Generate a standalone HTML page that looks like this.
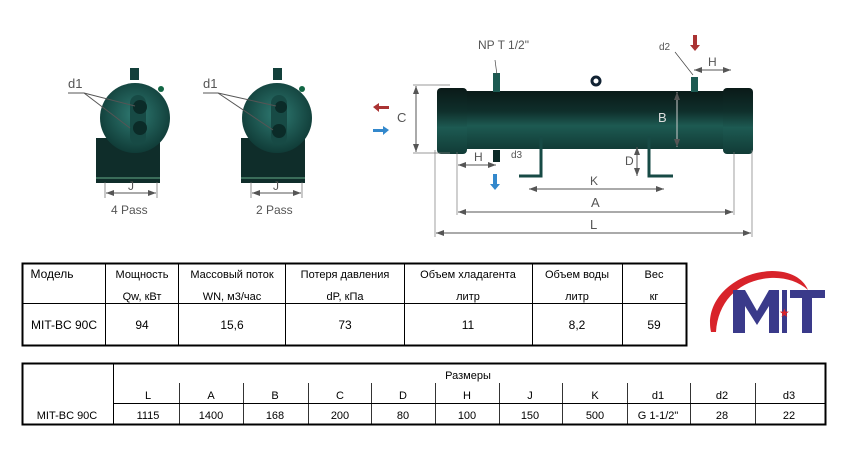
<!DOCTYPE html>
<html><head><meta charset="utf-8"><style>
body{margin:0;background:#fff;width:852px;height:452px;overflow:hidden}
svg{display:block}
.t{font-family:"Liberation Sans",sans-serif;fill:#555}
.c{font-family:"Liberation Sans","Noto Sans CJK SC",sans-serif;font-size:11px;fill:#000}
</style></head><body>
<svg width="852" height="452" viewBox="0 0 852 452" xmlns="http://www.w3.org/2000/svg">
<defs>
<linearGradient id="sh" x1="0" y1="0" x2="0" y2="1">
<stop offset="0" stop-color="#0a1a18"/><stop offset="0.35" stop-color="#0f2f2b"/><stop offset="0.6" stop-color="#1d5a52"/><stop offset="1" stop-color="#113b36"/></linearGradient>
<radialGradient id="rg" cx="0.5" cy="0.45" r="0.6"><stop offset="0" stop-color="#2f7a72"/><stop offset="1" stop-color="#0d3632"/></radialGradient>
<marker id="ar" markerWidth="8" markerHeight="6" refX="8" refY="3" orient="auto"><path d="M0,0 L8,3 L0,6z" fill="#555"/></marker>
<marker id="al" markerWidth="8" markerHeight="6" refX="0" refY="3" orient="auto"><path d="M8,0 L0,3 L8,6z" fill="#555"/></marker>
</defs>

<g>
<rect x="130" y="68" width="9" height="12" fill="#13403b"/>
<rect x="96" y="138" width="64" height="45" fill="#0f2d2a"/>
<line x1="96" y1="178" x2="160" y2="178" stroke="#6a8" stroke-width="1"/>
<circle cx="135" cy="118" r="35" fill="url(#rg)"/>
<rect x="130" y="95" width="16" height="50" rx="8" fill="#174a45"/>
<circle cx="140" cy="107" r="7" fill="#0b2b28"/><circle cx="140" cy="128" r="7" fill="#0b2b28"/>
<circle cx="161" cy="89" r="3" fill="#164"/>
<line x1="68" y1="93" x2="84" y2="93" stroke="#555"/><line x1="84" y1="93" x2="135" y2="106" stroke="#555"/><line x1="84" y1="93" x2="130" y2="128" stroke="#555"/>
<text x="68" y="88" class="t" font-size="13">d1</text>
<line x1="105" y1="182" x2="105" y2="198" stroke="#666" stroke-width=".7"/><line x1="157" y1="182" x2="157" y2="198" stroke="#666" stroke-width=".7"/>
<line x1="106" y1="193" x2="156" y2="193" stroke="#555" marker-start="url(#al)" marker-end="url(#ar)"/>
<text x="128" y="190" class="t" font-size="12">J</text>
<text x="111" y="214" class="t" font-size="12">4 Pass</text>
</g>
<g>
<rect x="273" y="68" width="9" height="12" fill="#13403b"/>
<rect x="241" y="138" width="64" height="45" fill="#0f2d2a"/>
<line x1="241" y1="178" x2="305" y2="178" stroke="#6a8" stroke-width="1"/>
<circle cx="277" cy="118" r="35" fill="url(#rg)"/>
<rect x="271" y="95" width="16" height="50" rx="8" fill="#174a45"/>
<circle cx="281" cy="107" r="6" fill="#0b2b28"/><circle cx="279" cy="131" r="7" fill="#0b2b28"/>
<circle cx="302" cy="89" r="3" fill="#164"/>
<line x1="203" y1="93" x2="218" y2="93" stroke="#555"/><line x1="218" y1="93" x2="276" y2="106" stroke="#555"/><line x1="218" y1="93" x2="273" y2="130" stroke="#555"/>
<text x="203" y="88" class="t" font-size="13">d1</text>
<line x1="251" y1="182" x2="251" y2="198" stroke="#666" stroke-width=".7"/><line x1="302" y1="182" x2="302" y2="198" stroke="#666" stroke-width=".7"/>
<line x1="252" y1="193" x2="301" y2="193" stroke="#555" marker-start="url(#al)" marker-end="url(#ar)"/>
<text x="273" y="190" class="t" font-size="12">J</text>
<text x="256" y="214" class="t" font-size="12">2 Pass</text>
</g>

<rect x="461" y="91" width="268" height="58" fill="url(#sh)"/>
<rect x="437" y="88" width="30" height="66" rx="4" fill="url(#sh)"/>
<rect x="723" y="88" width="30" height="66" rx="4" fill="url(#sh)"/>
<rect x="493" y="73" width="7" height="19" fill="#1d5a52"/>
<rect x="493" y="150" width="7" height="12" fill="#0d2b28"/>
<rect x="691" y="77" width="7" height="15" fill="#1d5a52"/>
<circle cx="596" cy="81" r="4" fill="none" stroke="#123" stroke-width="3"/>
<path d="M541 136 V176 H519 M649 136 V176 H673" stroke="#174a45" stroke-width="3" fill="none"/>
<line x1="497" y1="75" x2="495" y2="60" stroke="#444" stroke-width=".7"/>
<text x="478" y="49" class="t" font-size="12">NP T 1/2"</text>
<text x="659" y="50" class="t" font-size="10">d2</text>
<line x1="675" y1="52" x2="693" y2="75" stroke="#444" stroke-width=".7"/>
<path d="M693 35 h4 v10 h3 l-5 6 l-5 -6 h3z" fill="#a33"/>
<line x1="694" y1="70" x2="731" y2="70" stroke="#555" marker-start="url(#al)" marker-end="url(#ar)"/>
<text x="708" y="66" class="t" font-size="12">H</text>
<line x1="413" y1="85" x2="450" y2="85" stroke="#777" stroke-width=".7"/>
<line x1="413" y1="153" x2="450" y2="153" stroke="#777" stroke-width=".7"/>
<line x1="416" y1="86" x2="416" y2="152" stroke="#555" marker-start="url(#al)" marker-end="url(#ar)"/>
<text x="397" y="122" class="t" font-size="13">C</text>
<line x1="677" y1="92" x2="677" y2="147" stroke="#ccc" marker-start="url(#al)" marker-end="url(#ar)"/>
<text x="658" y="122" fill="#ddd" font-family="Liberation Sans" font-size="13">B</text>
<path d="M373 107 l6 -4 v3 h10 v3 h-10 v3z" fill="#a33"/>
<path d="M389 130 l-6 -4 v3 h-10 v3 h10 v3z" fill="#38c"/>
<text x="511" y="158" class="t" font-size="10">d3</text>
<path d="M493 174 h4 v10 h3 l-5 6 l-5 -6 h3z" fill="#38c"/>
<line x1="458" y1="165" x2="496" y2="165" stroke="#555" marker-start="url(#al)" marker-end="url(#ar)"/>
<text x="474" y="161" class="t" font-size="12">H</text>
<line x1="637" y1="147" x2="637" y2="176" stroke="#555" marker-start="url(#al)" marker-end="url(#ar)"/>
<text x="625" y="165" class="t" font-size="12">D</text>
<line x1="529" y1="189" x2="664" y2="189" stroke="#555" marker-start="url(#al)" marker-end="url(#ar)"/>
<text x="590" y="185" class="t" font-size="12">K</text>
<line x1="457" y1="152" x2="457" y2="215" stroke="#777" stroke-width=".7"/>
<line x1="734" y1="152" x2="734" y2="215" stroke="#777" stroke-width=".7"/>
<line x1="435" y1="150" x2="435" y2="237" stroke="#777" stroke-width=".7"/>
<line x1="752" y1="150" x2="752" y2="237" stroke="#777" stroke-width=".7"/>
<line x1="458" y1="212" x2="733" y2="212" stroke="#555" marker-start="url(#al)" marker-end="url(#ar)"/>
<text x="591" y="207" class="t" font-size="13">A</text>
<line x1="436" y1="233" x2="751" y2="233" stroke="#555" marker-start="url(#al)" marker-end="url(#ar)"/>
<text x="590" y="229" class="t" font-size="13">L</text>

<!-- logo -->
<path d="M711 332 C704 300 735 272 772 271 C790 271 803 278 808 290 C798 281 784 277 770 278 C740 280 718 300 716 332z" fill="#d8232a"/>
<path d="M733 333 V290 H745 L757 311 L769 290 H779 V333 H769 V306 L757 325 L745 306 V333z" fill="#3a3a8a"/>
<rect x="782" y="290" width="5" height="43" fill="#3a3a8a"/>
<path d="M790 290 H825 V298 H812 V333 H802 V298 H790z" fill="#3a3a8a"/>
<text x="779" y="317" fill="#d8232a" font-size="12">★</text>

<g stroke="#000" fill="none">
<rect x="22.5" y="263.5" width="664" height="82" stroke-width="2"/>
<line x1="22" y1="303.5" x2="687" y2="303.5"/>
<line x1="105.5" y1="263" x2="105.5" y2="345"/><line x1="178.5" y1="263" x2="178.5" y2="345"/>
<line x1="285.5" y1="263" x2="285.5" y2="345"/><line x1="404.5" y1="263" x2="404.5" y2="345"/>
<line x1="532.5" y1="263" x2="532.5" y2="345"/><line x1="622.5" y1="263" x2="622.5" y2="345"/>
</g>
<g class="c" text-anchor="middle">
<text x="52" y="278" font-size="12">Модель</text>
<text x="142" y="278">Мощность</text><text x="142" y="300">Qw, кВт</text>
<text x="232" y="278">Массовый поток</text><text x="232" y="300">WN, м3/час</text>
<text x="345" y="278">Потеря давления</text><text x="345" y="300">dP, кПа</text>
<text x="468" y="278">Объем хладагента</text><text x="468" y="300">литр</text>
<text x="577" y="278">Объем воды</text><text x="577" y="300">литр</text>
<text x="654" y="278">Вес</text><text x="654" y="300">кг</text>
<g font-size="12"><text x="64" y="329">MIT-BC 90C</text><text x="142" y="329">94</text><text x="232" y="329">15,6</text><text x="345" y="329">73</text><text x="468" y="329">11</text><text x="577" y="329">8,2</text><text x="654" y="329">59</text></g>
</g>

<g stroke="#000" fill="none">
<rect x="22.5" y="363.5" width="803" height="61" stroke-width="2"/>
<line x1="113" y1="403.5" x2="826" y2="403.5"/>
<line x1="113.5" y1="363" x2="113.5" y2="425"/>
<g stroke-width=".8">
<line x1="179.5" y1="383" x2="179.5" y2="425"/><line x1="243.5" y1="383" x2="243.5" y2="425"/><line x1="308.5" y1="383" x2="308.5" y2="425"/><line x1="371.5" y1="383" x2="371.5" y2="425"/><line x1="435.5" y1="383" x2="435.5" y2="425"/><line x1="499.5" y1="383" x2="499.5" y2="425"/><line x1="562.5" y1="383" x2="562.5" y2="425"/><line x1="627.5" y1="383" x2="627.5" y2="425"/><line x1="690.5" y1="383" x2="690.5" y2="425"/><line x1="755.5" y1="383" x2="755.5" y2="425"/>
</g></g>
<g class="c" text-anchor="middle" font-size="12">
<text x="468" y="379">Размеры</text>
<text x="148" y="399">L</text><text x="211" y="399">A</text><text x="275" y="399">B</text><text x="340" y="399">C</text><text x="403" y="399">D</text><text x="467" y="399">H</text><text x="530" y="399">J</text><text x="595" y="399">K</text><text x="658" y="399">d1</text><text x="722" y="399">d2</text><text x="789" y="399">d3</text>
<text x="67" y="419">MIT-BC 90C</text><text x="148" y="419">1115</text><text x="211" y="419">1400</text><text x="275" y="419">168</text><text x="340" y="419">200</text><text x="403" y="419">80</text><text x="467" y="419">100</text><text x="530" y="419">150</text><text x="595" y="419">500</text><text x="658" y="419">G 1-1/2"</text><text x="722" y="419">28</text><text x="789" y="419">22</text>
</g>
</svg>
</body></html>
